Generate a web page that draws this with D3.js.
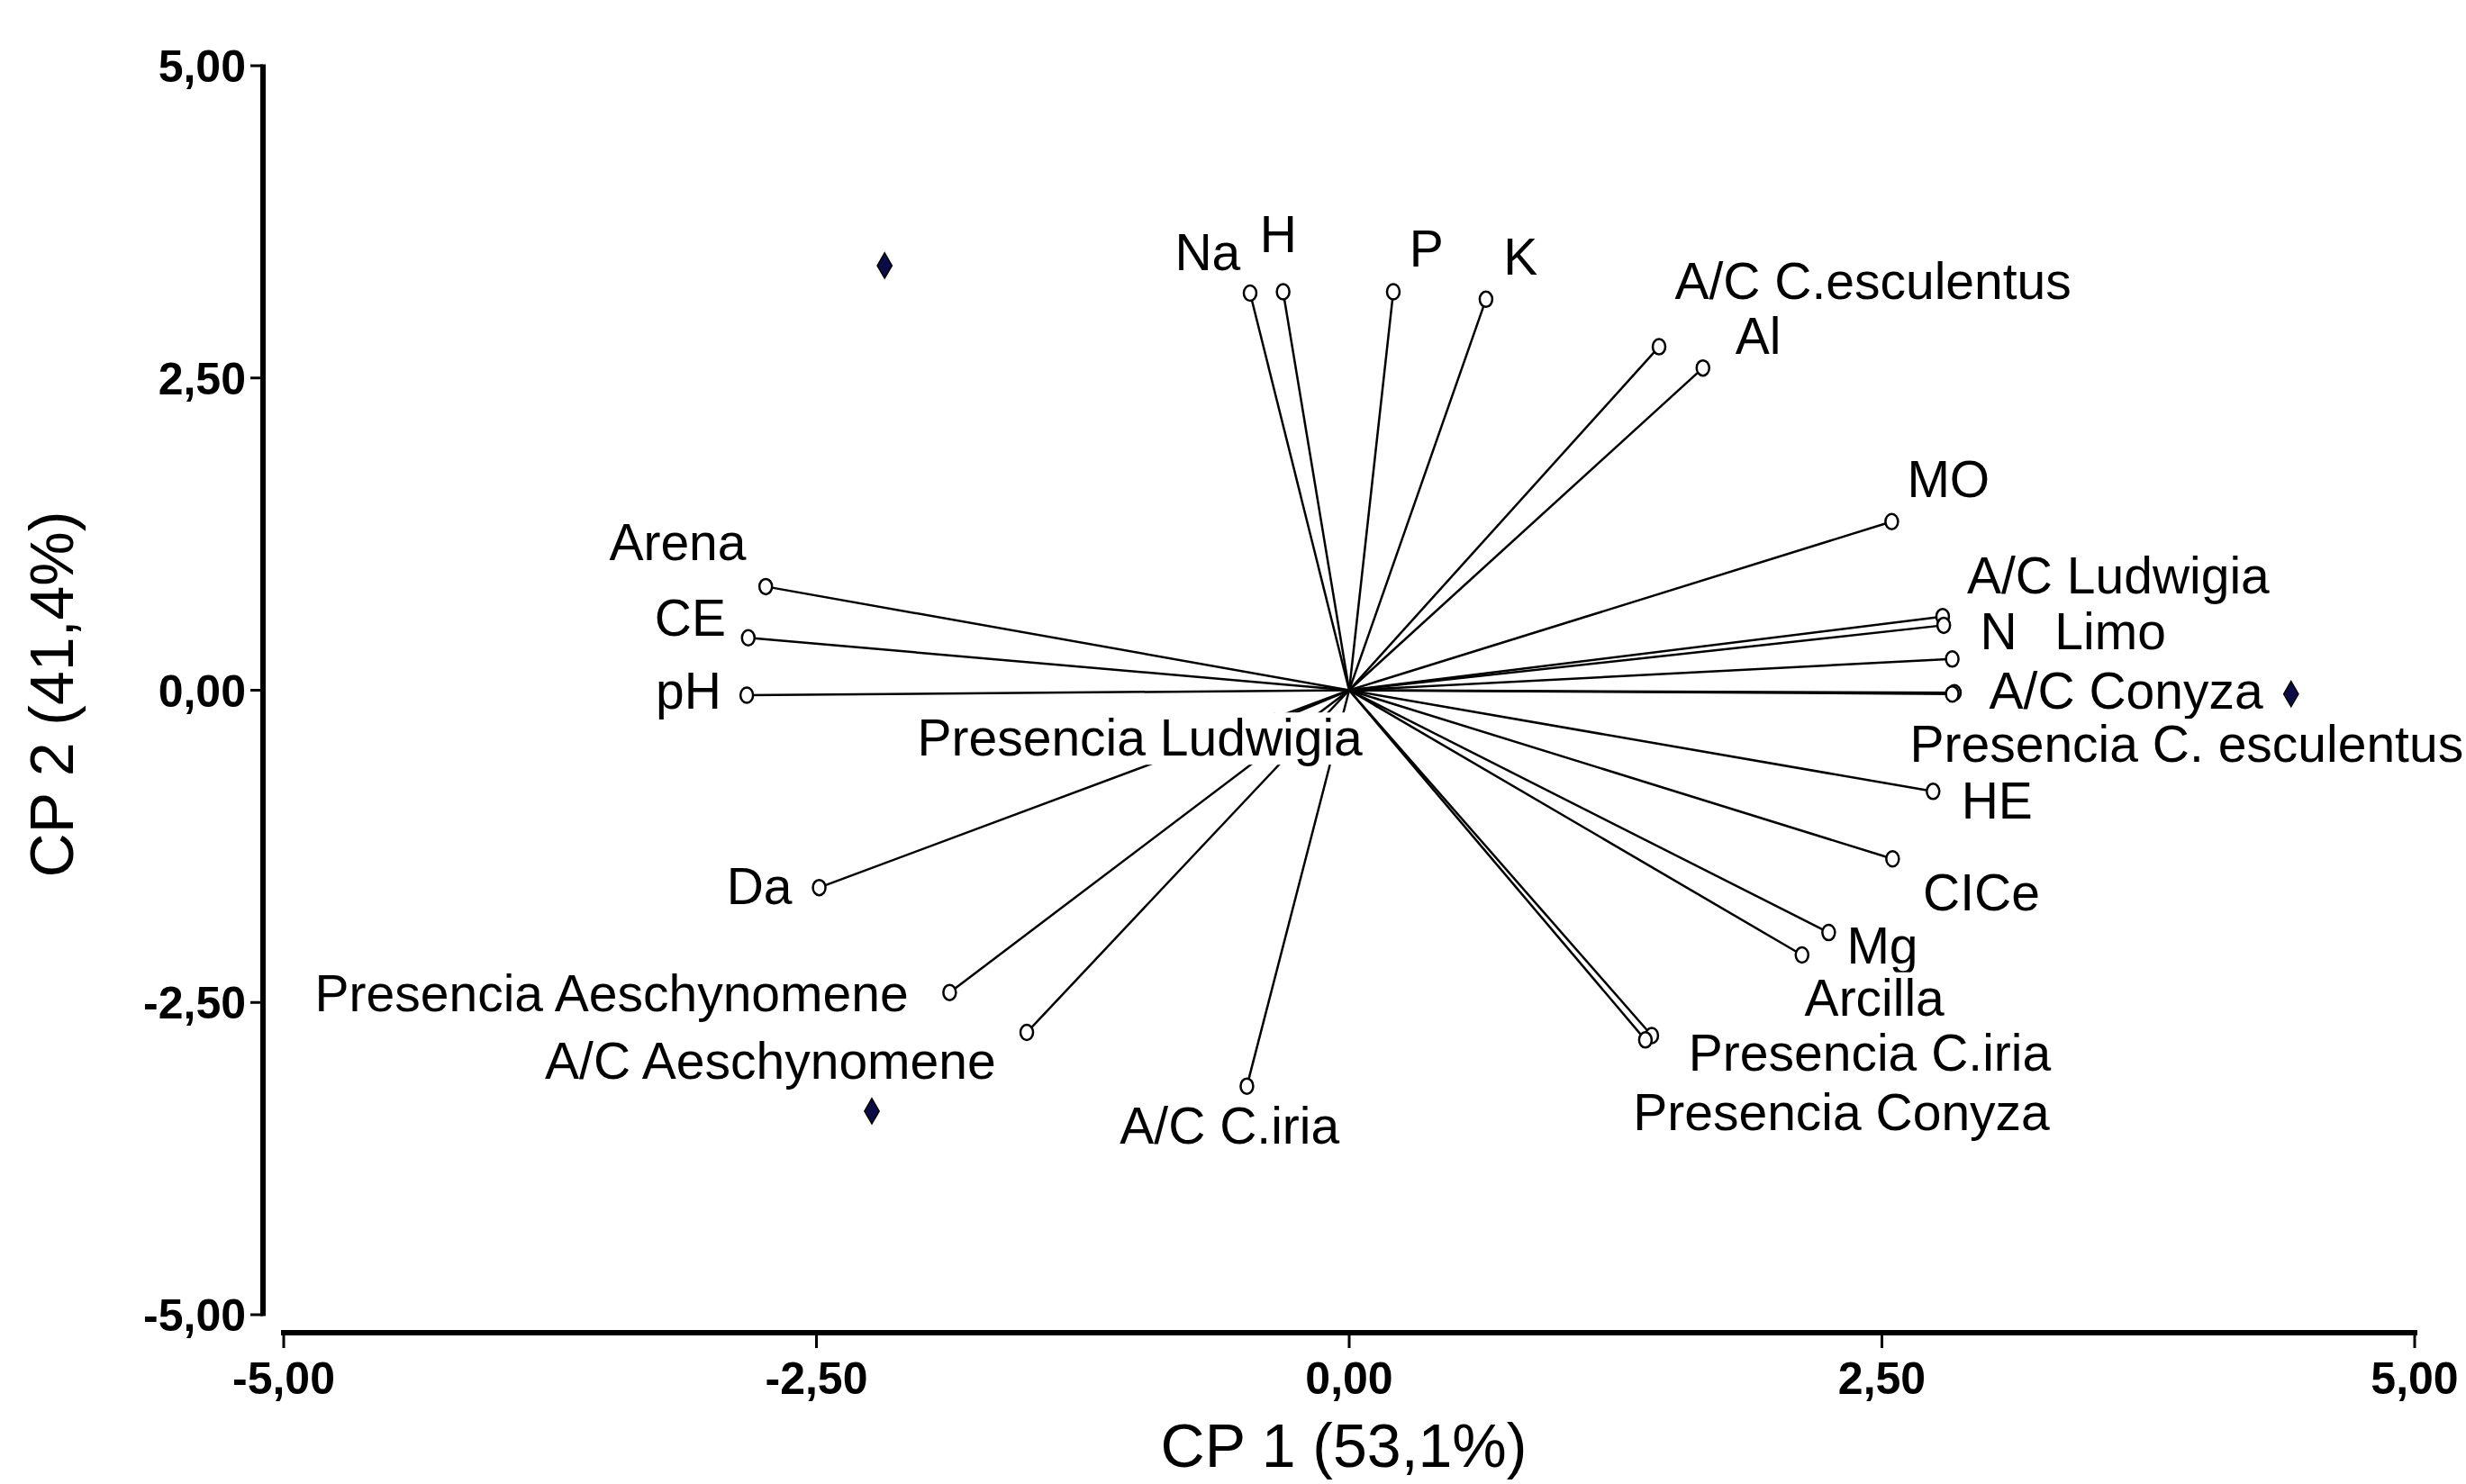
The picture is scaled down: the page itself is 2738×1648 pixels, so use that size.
<!DOCTYPE html>
<html>
<head>
<meta charset="utf-8">
<script src="https://cdn.jsdelivr.net/npm/d3@7"></script>
<style>
  html, body { margin: 0; padding: 0; background: #ffffff; }
  svg { display: block; }
</style>
</head>
<body>
<svg id="chart" width="2738" height="1648"></svg>
<script>
// ---- Data ----
const varNames = [
  "Na", "H", "P", "K", "A/C C.esculentus", "Al", "MO", "A/C Ludwigia", "N", "Limo",
  "A/C Conyza", "Presencia C. esculentus", "HE", "CICe", "Mg", "Arcilla",
  "Presencia C.iria", "Presencia Conyza", "A/C C.iria", "A/C Aeschynomene",
  "Presencia Aeschynomene", "Da", "pH", "CE", "Arena", "Presencia Ludwigia"
];
const varX = [-0.465, -0.31, 0.207, 0.642, 1.454, 1.66, 2.546, 2.785, 2.79, 2.83,
  2.84, 2.83, 2.74, 2.55, 2.25, 2.125, 1.42, 1.39, -0.48, -1.513,
  -1.875, -2.487, -2.827, -2.82, -2.738, -0.35];
const varY = [3.18, 3.19, 3.19, 3.13, 2.75, 2.58, 1.35, 0.59, 0.52, 0.25,
  -0.02, -0.03, -0.81, -1.35, -1.94, -2.12, -2.765, -2.80, -3.17, -2.74,
  -2.42, -1.58, -0.04, 0.42, 0.83, -0.25];
// label anchor points (axis units)
const labelX = [-0.664, -0.332, 0.362, 0.804, 2.458, 1.919, 2.812, 3.609, 3.048, 3.572,
  3.646, 3.93, 3.04, 2.967, 2.502, 2.465, 2.443, 2.31, -0.561, -2.716,
  -3.461, -2.768, -3.10, -3.092, -3.151, -0.982];
const labelY = [3.51, 3.65, 3.54, 3.47, 3.28, 2.84, 1.69, 0.92, 0.47, 0.47,
  0.0, -0.43, -0.88, -1.62, -2.045, -2.46, -2.90, -3.38, -3.485, -2.967,
  -2.424, -1.566, 0.0, 0.58, 1.187, -0.38];
// observations (filled points)
const obsX = [-2.18, -2.24, 4.42];
const obsY = [3.40, -3.37, -0.03];
// axes
const xTicks = [-5, -2.5, 0, 2.5, 5];
const yTicks = [-5, -2.5, 0, 2.5, 5];
const xTitle = "CP 1 (53,1%)";
const yTitle = "CP 2 (41,4%)";

// ---- Layout ----
const svg = d3.select("#chart");
const x = d3.scaleLinear().domain([-5, 5]).range([315, 2681]);
const y = d3.scaleLinear().domain([-5, 5]).range([1460, 73]);
const yAxisX = 292;
const xAxisY = 1480;
const fmt = v => d3.format(".2f")(v).replace(".", ",").replace("\u2212", "-");

// Y axis
const gy = svg.append("g");
gy.append("line")
  .attr("x1", yAxisX).attr("x2", yAxisX)
  .attr("y1", y(5) - 1.5).attr("y2", y(-5) + 1.5)
  .attr("stroke", "#000").attr("stroke-width", 6);
gy.selectAll("line.tick").data(yTicks).enter().append("line")
  .attr("class", "tick")
  .attr("x1", yAxisX - 14).attr("x2", yAxisX)
  .attr("y1", d => y(d)).attr("y2", d => y(d))
  .attr("stroke", "#000").attr("stroke-width", 3);
gy.selectAll("text").data(yTicks).enter().append("text")
  .attr("x", 273).attr("y", d => y(d) + 18)
  .attr("text-anchor", "end")
  .attr("font-family", "'Liberation Sans', Arial, sans-serif")
  .attr("font-weight", "bold").attr("font-size", 50)
  .text(fmt);

// X axis
const gx = svg.append("g");
gx.append("line")
  .attr("x1", x(-5) - 3).attr("x2", x(5) + 3)
  .attr("y1", xAxisY).attr("y2", xAxisY)
  .attr("stroke", "#000").attr("stroke-width", 6);
gx.selectAll("line.tick").data(xTicks).enter().append("line")
  .attr("class", "tick")
  .attr("x1", d => x(d)).attr("x2", d => x(d))
  .attr("y1", xAxisY).attr("y2", xAxisY + 17)
  .attr("stroke", "#000").attr("stroke-width", 3);
gx.selectAll("text").data(xTicks).enter().append("text")
  .attr("x", d => x(d)).attr("y", 1548)
  .attr("text-anchor", "middle")
  .attr("font-family", "'Liberation Sans', Arial, sans-serif")
  .attr("font-weight", "bold").attr("font-size", 50)
  .text(fmt);

// Axis titles
svg.append("text")
  .attr("x", 1492).attr("y", 1629)
  .attr("text-anchor", "middle")
  .attr("font-family", "'Liberation Sans', Arial, sans-serif")
  .attr("font-size", 68)
  .text(xTitle);
svg.append("text")
  .attr("transform", "translate(81,771) rotate(-90)")
  .attr("text-anchor", "middle")
  .attr("font-family", "'Liberation Sans', Arial, sans-serif")
  .attr("font-size", 68)
  .text(yTitle);

// Variable vectors
const vars = varNames.map((n, i) => ({ name: n, x: varX[i], y: varY[i], lx: labelX[i], ly: labelY[i] }));
const gv = svg.append("g");
gv.selectAll("line").data(vars).enter().append("line")
  .attr("x1", x(0)).attr("y1", y(0))
  .attr("x2", d => x(d.x)).attr("y2", d => y(d.y))
  .attr("stroke", "#000").attr("stroke-width", 2.5);
gv.selectAll("ellipse").data(vars).enter().append("ellipse")
  .attr("cx", d => x(d.x)).attr("cy", d => y(d.y))
  .attr("rx", 7).attr("ry", 8.5)
  .attr("fill", "#fff").attr("stroke", "#000").attr("stroke-width", 2.5);

// Observations (filled diamonds)
svg.append("g").selectAll("path").data(obsX.map((v, i) => ({ x: v, y: obsY[i] }))).enter()
  .append("path")
  .attr("transform", d => `translate(${x(d.x)},${y(d.y)})`)
  .attr("d", d3.symbol().type(d3.symbolDiamond).size(230))
  .attr("fill", "#0b0b45").attr("stroke", "#000").attr("stroke-width", 1.5);

// Labels with white background
const gl = svg.append("g");
const lab = gl.selectAll("g").data(vars).enter().append("g");
lab.append("text")
  .attr("x", d => x(d.lx)).attr("y", d => y(d.ly) + 20)
  .attr("text-anchor", "middle")
  .attr("font-family", "'Liberation Sans', Arial, sans-serif")
  .attr("font-size", 57)
  .attr("fill", "#000")
  .text(d => d.name);
lab.each(function () {
  const g = d3.select(this);
  const bb = g.select("text").node().getBBox();
  g.insert("rect", "text")
    .attr("x", bb.x - 2).attr("y", bb.y + 4)
    .attr("width", bb.width + 4).attr("height", bb.height - 6)
    .attr("fill", "#fff");
});
</script>
</body>
</html>
